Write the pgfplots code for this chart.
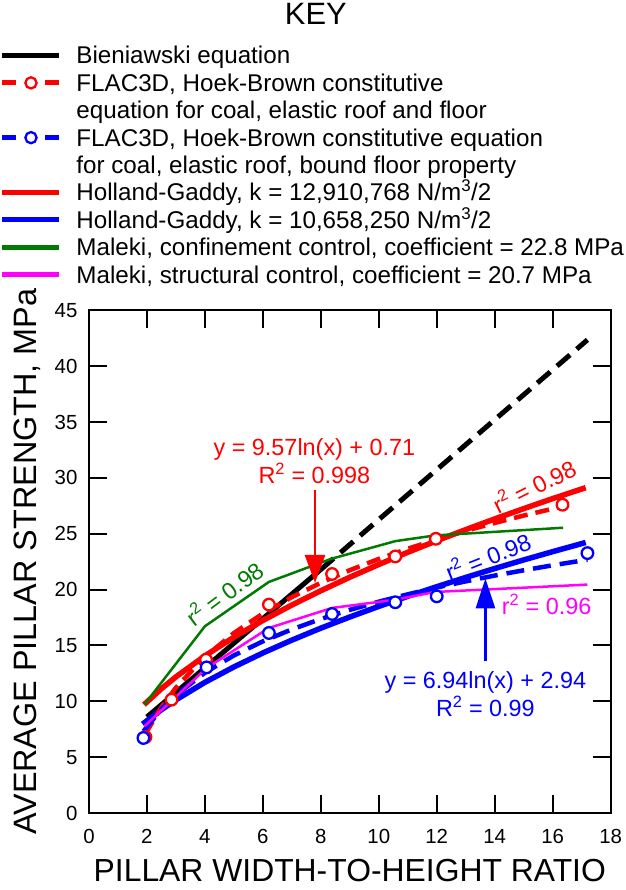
\documentclass[border=0pt]{standalone}
\usepackage{pgfplots}
\pgfplotsset{compat=1.18}
\usepackage{fontspec}
\setmainfont{Liberation Sans}
\usetikzlibrary{arrows.meta}

\definecolor{hgred}{RGB}{255,0,0}
\definecolor{hgblue}{RGB}{0,0,255}
\definecolor{mgreen}{RGB}{0,122,0}
\definecolor{mmagenta}{RGB}{255,0,255}

\newcommand{\annfont}{\fontsize{23.5}{27}\selectfont}
\newcommand{\keyfont}{\fontsize{24.3}{27}\selectfont}

\begin{document}
\begin{tikzpicture}
\begin{axis}[
  scale only axis, width=522bp, height=503bp,
  xmin=0, xmax=18, ymin=0, ymax=45,
  xtick={0,2,...,18}, ytick={0,5,...,45},
  axis on top,
  tick align=inside,
  major tick length=18bp,
  tick style={black, line width=2bp},
  axis line style={black, line width=2.2bp},
  clip=false,
  /pgf/number format/assume math mode=true,
  tick label style={font=\fontsize{20.5}{24}\selectfont},
  xticklabel style={yshift=-12.5bp},
  yticklabel style={xshift=-8bp},
  xlabel={PILLAR WIDTH-TO-HEIGHT RATIO},
  ylabel={AVERAGE PILLAR STRENGTH, MPa},
  xlabel style={font=\fontsize{32}{36}\selectfont, at={(axis description cs:0.5,0)}, anchor=base, yshift=-68bp},
  ylabel style={font=\fontsize{32.5}{36}\selectfont, at={(axis description cs:-0.0996,0.5)}, anchor=base},
  title={KEY},
  title style={font=\fontsize{31}{36}\selectfont, at={(axis description cs:0.4349,1.5567)}, anchor=base},
  legend cell align=left,
  legend image code/.code={\draw[#1, line width=5bp, solid] (0bp,0bp) -- (57bp,0bp);},
  legend style={at={(axis description cs:-0.1705,1.5239)}, anchor=north west,
    draw=none, fill=none, inner sep=0pt, outer sep=0pt, row sep=10.4bp,
    font=\keyfont,
    nodes={inner sep=0pt, text height=17bp, text depth=0bp},
    /tikz/every odd column/.append style={column sep=14.5bp}},
]

% ---- legend ----
\addlegendimage{black}
\addlegendentry{Bieniawski equation}
\addlegendimage{legend image code/.code={
    \draw[hgred, line width=5bp] (0bp,0bp) -- (14bp,0bp) (43bp,0bp) -- (57bp,0bp);
    \draw[hgred, line width=2.3bp, fill=white] plot[mark=*, mark size=5.6bp, only marks] coordinates {(28.5bp,0bp)};}}
\addlegendentry{FLAC3D, Hoek-Brown constitutive}
\addlegendimage{empty legend}
\addlegendentry{equation for coal, elastic roof and floor}
\addlegendimage{legend image code/.code={
    \draw[hgblue, line width=5bp] (0bp,0bp) -- (14bp,0bp) (43bp,0bp) -- (57bp,0bp);
    \draw[hgblue, line width=2.3bp, fill=white] plot[mark=*, mark size=5.6bp, only marks] coordinates {(28.5bp,0bp)};}}
\addlegendentry{FLAC3D, Hoek-Brown constitutive equation}
\addlegendimage{empty legend}
\addlegendentry{for coal, elastic roof, bound floor property}
\addlegendimage{hgred}
\addlegendentry{Holland-Gaddy, k = 12,910,768 N/m\textsuperscript{3}/2}
\addlegendimage{hgblue}
\addlegendentry{Holland-Gaddy, k = 10,658,250 N/m\textsuperscript{3}/2}
\addlegendimage{mgreen}
\addlegendentry{Maleki, confinement control, coefficient = 22.8 MPa}
\addlegendimage{mmagenta}
\addlegendentry{Maleki, structural control, coefficient = 20.7 MPa}

% ---- Bieniawski equation ----
\addplot[black, line width=5bp, forget plot] coordinates {(2.0,8.6) (8.0,21.8)};
\addplot[black, line width=5bp, dash pattern=on 17bp off 9bp, forget plot]
  coordinates {(8.0,21.8) (17.2,42.36)};

% ---- Holland-Gaddy ----
\addplot[hgred, line width=5.5bp, forget plot] coordinates {
  (1.9,9.70) (2.5,11.13) (3,12.19) (4,14.07) (5,15.74) (6,17.24) (7,18.62) (8,19.90)
  (9,21.11) (10,22.25) (11,23.34) (12,24.38) (13,25.37) (14,26.33) (15,27.25)
  (16,28.15) (17.14,29.13)};
\addplot[hgblue, line width=5.5bp, forget plot] coordinates {
  (1.85,7.96) (2.5,9.25) (3,10.13) (4,11.70) (5,13.08) (6,14.33) (7,15.48) (8,16.55)
  (9,17.55) (10,18.50) (11,19.40) (12,20.26) (13,21.09) (14,21.89) (15,22.66)
  (16,23.40) (17.14,24.22)};

% ---- FLAC3D logarithmic fits ----
\addplot[hgred, line width=4.5bp, dash pattern=on 14bp off 8bp, forget plot] coordinates {
  (1.95,7.10) (2.5,9.48) (3,11.22) (4,13.98) (5,16.11) (6,17.86) (7,19.33) (8,20.61)
  (9,21.74) (10,22.75) (11,23.66) (12,24.49) (13,25.26) (14,25.97) (15,26.63)
  (16,27.24) (16.34,27.45)};
\addplot[hgblue, line width=4.5bp, dash pattern=on 18bp off 9bp, forget plot] coordinates {
  (1.88,7.32) (2.5,9.30) (3,10.56) (4,12.56) (5,14.11) (6,15.37) (7,16.44) (8,17.37)
  (9,18.19) (10,18.92) (11,19.58) (12,20.19) (13,20.74) (14,21.26) (15,21.73)
  (16,22.18) (17.2,22.68)};

% ---- FLAC3D model results ----
\addplot[only marks, mark=*, mark size=5.8bp,
  mark options={draw=hgred, fill=white, line width=2.3bp}, forget plot] coordinates {
  (1.95,6.8) (2.85,10.15) (4.04,13.73) (6.21,18.66) (8.39,21.4) (10.57,22.97)
  (11.97,24.55) (16.34,27.6)};
\addplot[only marks, mark=*, mark size=5.8bp,
  mark options={draw=hgblue, fill=white, line width=2.3bp}, forget plot] coordinates {
  (1.88,6.72) (4.06,13.04) (6.21,16.12) (8.39,17.82) (10.57,18.87) (12.0,19.4)
  (17.2,23.27)};

% ---- Maleki ----
\addplot[mgreen, line width=2.5bp, forget plot] coordinates {
  (1.91,9.7) (4.0,16.72) (6.21,20.69) (8.36,22.76) (10.57,24.34) (11.94,24.85)
  (16.36,25.54)};
\addplot[mmagenta, line width=2.5bp, forget plot] coordinates {
  (1.91,7.76) (4.06,12.99) (6.21,16.57) (8.39,18.36) (10.57,19.1) (11.94,19.79)
  (17.2,20.45)};

% ---- annotations ----
\node[font=\annfont, text=hgred, anchor=base] at (axis cs:7.78,32.01) {y = 9.57ln(x) + 0.71};
\node[font=\annfont, text=hgred, anchor=base] at (axis cs:7.78,29.48) {R\textsuperscript{2} = 0.998};
\draw[hgred, line width=2.8bp, -{Triangle[length=28bp, width=20bp]}]
  (axis cs:7.8,28.9) -- (axis cs:7.8,20.6);

\node[font=\annfont, text=hgblue, anchor=base] at (axis cs:13.68,11.19) {y = 6.94ln(x) + 2.94};
\node[font=\annfont, text=hgblue, anchor=base] at (axis cs:13.68,8.66) {R\textsuperscript{2} = 0.99};
\draw[hgblue, line width=2.8bp, -{Triangle[length=30bp, width=19bp]}]
  (axis cs:13.68,13.58) -- (axis cs:13.68,21.0);

\node[font=\annfont, text=mgreen, rotate=36.7] at (axis cs:4.66,19.7) {r\textsuperscript{2} = 0.98};
\node[font=\annfont, text=hgred, rotate=26.6] at (axis cs:15.35,29.33) {r\textsuperscript{2} = 0.98};
\node[font=\annfont, text=hgblue, rotate=21.6] at (axis cs:13.76,23.0) {r\textsuperscript{2} = 0.98};
\node[font=\annfont, text=mmagenta, anchor=base] at (axis cs:15.79,17.76) {r\textsuperscript{2} = 0.96};

% ---- frame and inward ticks on all four sides ----
\draw[black, line width=2.2bp] (axis cs:0,0) rectangle (axis cs:18,45);
\pgfplotsinvokeforeach{2,4,6,8,10,12,14,16}{
  \draw[black, line width=2bp] (axis cs:#1,0) -- (axis cs:#1,1.6);
  \draw[black, line width=2bp] (axis cs:#1,45) -- (axis cs:#1,43.4);
}
\pgfplotsinvokeforeach{5,10,15,20,25,30,35,40}{
  \draw[black, line width=2bp] (axis cs:0,#1) -- (axis cs:0.62,#1);
  \draw[black, line width=2bp] (axis cs:18,#1) -- (axis cs:17.38,#1);
}
\end{axis}
\path (current axis.south west) ++(-89bp,-77bp) rectangle ++(626bp,890bp);
\end{tikzpicture}
\end{document}
